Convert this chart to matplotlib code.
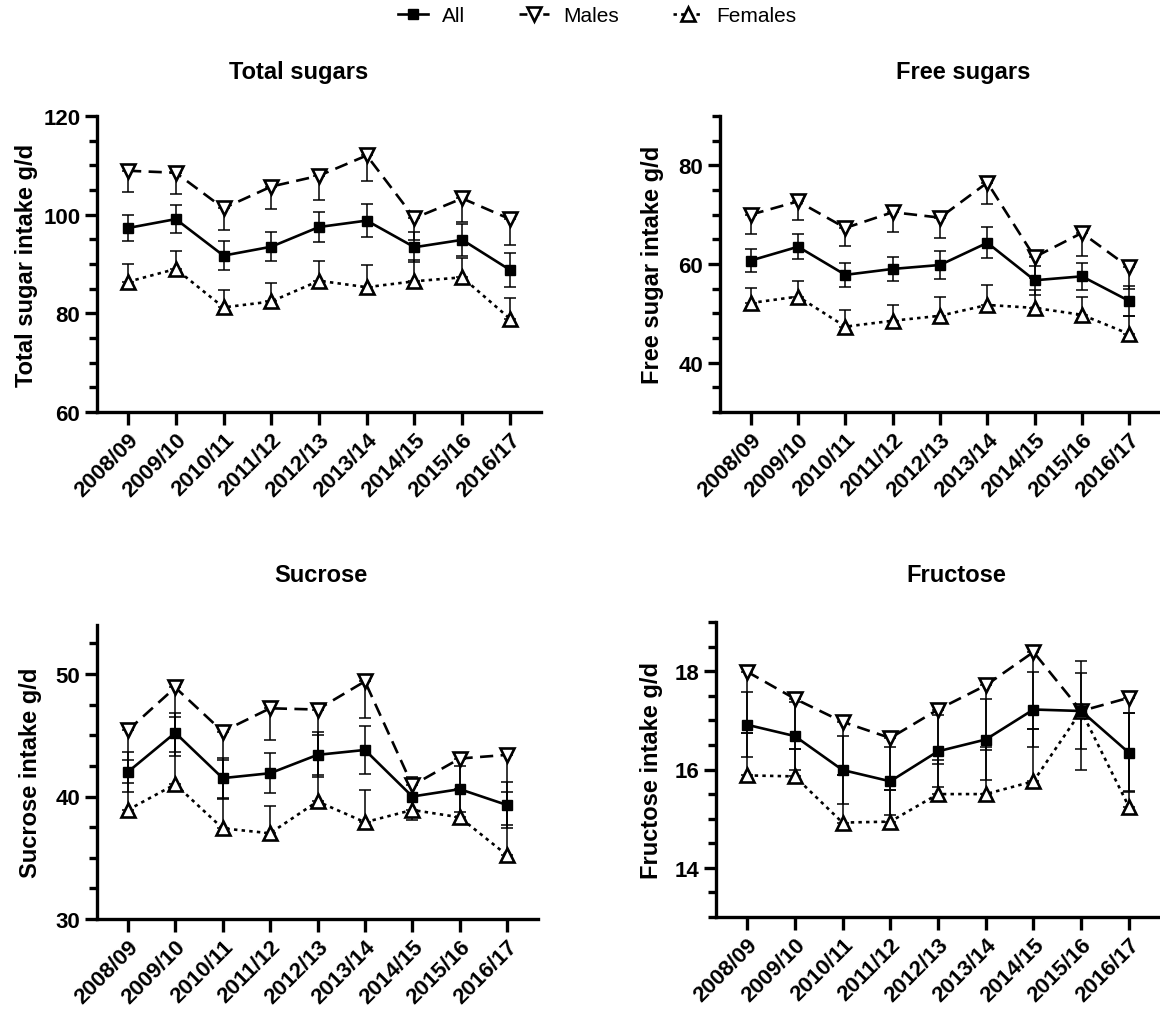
import numpy as np
import matplotlib
matplotlib.use("Agg")
import matplotlib.pyplot as plt
from matplotlib.ticker import MultipleLocator
from matplotlib.lines import Line2D
from matplotlib.transforms import blended_transform_factory

plt.rcParams['font.family'] = ['Liberation Sans', 'DejaVu Sans']

years = ['2008/09', '2009/10', '2010/11', '2011/12', '2012/13',
         '2013/14', '2014/15', '2015/16', '2016/17']

# Total sugars (g/d)
total_all = [97.3, 99.1, 91.7, 93.5, 97.5, 98.8, 93.4, 94.9, 88.8]
total_all_err = [2.7, 2.8, 2.9, 2.9, 3.1, 3.4, 3.0, 3.3, 3.4]
total_males = [108.9, 108.5, 101.3, 105.7, 107.9, 112.0, 99.3, 103.3, 99.1]
total_males_err = [4.4, 4.3, 4.4, 4.6, 4.9, 5.1, 4.5, 4.8, 5.2]
total_females = [86.4, 89.0, 81.2, 82.4, 86.6, 85.3, 86.5, 87.3, 78.9]
total_females_err = [3.5, 3.7, 3.6, 3.7, 4.1, 4.4, 4.4, 4.0, 4.2]

# Free sugars (g/d)
free_all = [60.7, 63.5, 57.8, 59.0, 59.8, 64.3, 56.7, 57.5, 52.5]
free_all_err = [2.4, 2.5, 2.5, 2.5, 2.8, 3.1, 2.9, 2.8, 3.0]
free_males = [70.0, 72.7, 67.3, 70.5, 69.4, 76.5, 61.4, 66.3, 59.3]
free_males_err = [4.0, 3.7, 3.7, 4.1, 4.1, 4.4, 4.3, 4.7, 4.4]
free_females = [52.1, 53.4, 47.3, 48.5, 49.5, 51.7, 51.1, 49.7, 45.8]
free_females_err = [3.0, 3.1, 3.4, 3.2, 3.8, 4.0, 3.7, 3.6, 3.7]

# Sucrose (g/d)
suc_all = [42.0, 45.2, 41.5, 41.9, 43.4, 43.8, 40.0, 40.6, 39.3]
suc_all_err = [1.6, 1.6, 1.65, 1.65, 1.65, 1.95, 1.6, 1.9, 1.9]
suc_males = [45.4, 48.9, 45.3, 47.2, 47.1, 49.4, 40.9, 43.1, 43.4]
suc_males_err = [4.3, 5.6, 5.5, 2.6, 5.5, 3.0, 2.8, 2.5, 5.7]
suc_females = [38.9, 41.0, 37.4, 37.0, 39.6, 37.9, 38.9, 38.3, 35.2]
suc_females_err = [4.1, 5.5, 5.6, 2.2, 5.7, 2.6, 2.4, 2.2, 5.2]

# Fructose (g/d)
fru_all = [16.91, 16.68, 15.99, 15.76, 16.37, 16.61, 17.22, 17.19, 16.34]
fru_all_err = [0.66, 0.70, 0.69, 0.69, 0.73, 0.83, 0.76, 0.78, 0.80]
fru_males = [17.99, 17.44, 16.97, 16.64, 17.22, 17.71, 18.39, 17.19, 17.46]
fru_males_err = [1.25, 1.02, 1.09, 1.06, 1.10, 1.32, 1.57, 1.19, 1.90]
fru_females = [15.88, 15.86, 14.92, 14.94, 15.50, 15.50, 15.76, 17.19, 15.24]
fru_females_err = [0.86, 0.56, 0.96, 0.64, 0.70, 0.96, 1.06, 1.01, 1.90]

panels = [
    dict(title='Total sugars', ylabel='Total sugar intake g/d',
         ylim=(60, 120), major=20, minor=5, label_bottom=True,
         data=(total_all, total_all_err, total_males, total_males_err,
               total_females, total_females_err),
         rect=(97, 117, 541, 413), labx=-0.133, title_x=3.58, title_y=72),
    dict(title='Free sugars', ylabel='Free sugar intake g/d',
         ylim=(30, 90), major=20, minor=5, label_bottom=False,
         data=(free_all, free_all_err, free_males, free_males_err,
               free_females, free_females_err),
         rect=(720, 117, 1160, 413), labx=-0.127, title_x=4.5, title_y=72),
    dict(title='Sucrose', ylabel='Sucrose intake g/d',
         ylim=(30, 54), major=10, minor=2.5, label_bottom=True,
         data=(suc_all, suc_all_err, suc_males, suc_males_err,
               suc_females, suc_females_err),
         rect=(97, 626, 538, 920), labx=-0.125, title_x=4.07, title_y=575),
    dict(title='Fructose', ylabel='Fructose intake g/d',
         ylim=(13, 19), major=2, minor=0.5, label_bottom=False,
         data=(fru_all, fru_all_err, fru_males, fru_males_err,
               fru_females, fru_females_err),
         rect=(716, 623, 1160, 918), labx=-0.119, title_x=4.38, title_y=575),
]

W, H = 1160, 1012
fig = plt.figure(figsize=(W / 100, H / 100), dpi=100)
x = np.arange(len(years))

for p in panels:
    x0, y0, x1, y1 = p['rect']
    ax = fig.add_axes([x0 / W, 1 - y1 / H, (x1 - x0) / W, (y1 - y0) / H])
    a, ae, m, me, f, fe = [np.array(v) for v in p['data']]
    zero = np.zeros_like(a)

    # GraphPad style: All both ways, males below only, females above only
    ax.errorbar(x, a, yerr=[ae, ae], fmt='none', ecolor='black',
                elinewidth=1.1, capsize=4.5, capthick=1.1, zorder=2)
    ax.errorbar(x, m, yerr=[me, zero], fmt='none', ecolor='black',
                elinewidth=1.1, capsize=4.5, capthick=1.1, zorder=2)
    ax.errorbar(x, f, yerr=[zero, fe], fmt='none', ecolor='black',
                elinewidth=1.1, capsize=4.5, capthick=1.1, zorder=2)

    ax.plot(x, m, color='black', lw=1.9, dashes=(5, 2.8), marker='v',
            ms=10, mfc='white', mec='black', mew=1.9, zorder=3)
    ax.plot(x, f, color='black', lw=1.9, dashes=(1.3, 1.6), marker='^',
            ms=10, mfc='white', mec='black', mew=1.9, zorder=3)
    ax.plot(x, a, color='black', lw=1.9, marker='s', ms=7.5, mfc='black',
            mec='black', zorder=4)

    ax.set_xlim(-0.65, 8.65)
    ax.set_ylim(*p['ylim'])
    ax.yaxis.set_major_locator(MultipleLocator(p['major']))
    ax.yaxis.set_minor_locator(MultipleLocator(p['minor']))
    if not p['label_bottom']:
        lo, hi = p['ylim']
        majors = [t for t in np.arange(0, hi + 0.01, p['major']) if lo < t <= hi]
        ax.set_yticks(majors)
    ax.set_xticks(x)
    ax.set_xticklabels(years, rotation=45, ha='right', rotation_mode='anchor',
                       fontsize=16, fontweight='bold')
    for lab in ax.get_yticklabels():
        lab.set_fontsize(16)
        lab.set_fontweight('bold')
    ax.set_ylabel(p['ylabel'], fontsize=17, fontweight='bold')
    ax.yaxis.set_label_coords(p['labx'], 0.5)

    for side in ['top', 'right']:
        ax.spines[side].set_visible(False)
    for side in ['left', 'bottom']:
        ax.spines[side].set_linewidth(2.4)
    ax.tick_params(axis='both', which='major', width=2.4, length=9, pad=3)
    ax.tick_params(axis='y', which='minor', width=2.4, length=6)
    ax.tick_params(axis='x', which='minor', length=0)

    trans = blended_transform_factory(ax.transData, fig.transFigure)
    ax.text(p['title_x'], 1 - p['title_y'] / H, p['title'], transform=trans,
            ha='center', va='center', fontsize=17, fontweight='bold',
            clip_on=False)

handles = [
    Line2D([], [], color='black', lw=1.9, marker='s', ms=7.5),
    Line2D([], [], color='black', lw=1.9, dashes=(3, 1.5), marker='v', ms=10,
           mfc='white', mew=1.9),
    Line2D([], [], color='black', lw=1.9, dashes=(1.3, 1.6), marker='^',
           ms=10, mfc='white', mew=1.9),
]
fig.legend(handles, ['All', 'Males', 'Females'], loc='center',
           bbox_to_anchor=(0.515, 1 - 17 / H), ncol=3, frameon=False,
           fontsize=15, handlelength=1.45, columnspacing=2.6,
           handletextpad=0.65)

fig.savefig('out.png', dpi=100)
